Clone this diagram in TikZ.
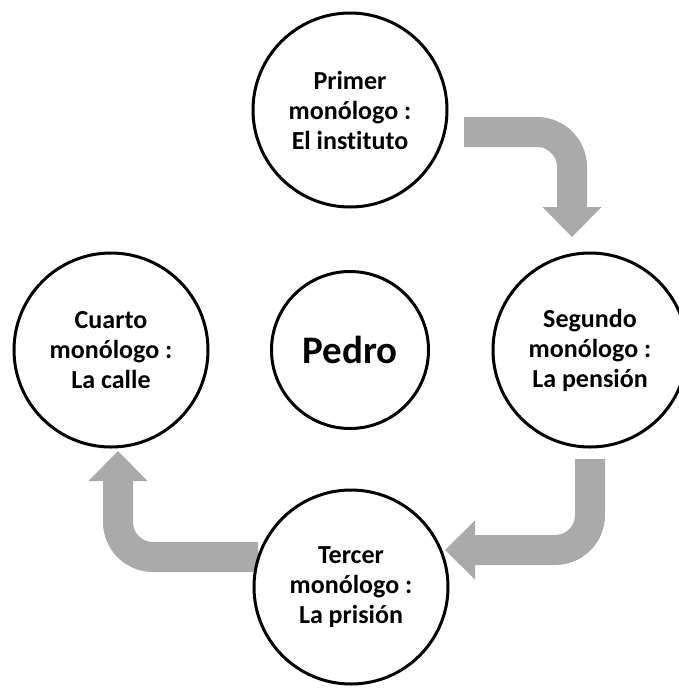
\documentclass[tikz,border=0pt]{standalone}
\usepackage{fontspec}
\setmainfont{Carlito}[Ligatures={NoCommon,NoContextual}]
\definecolor{arrowgray}{RGB}{170,170,170}
\begin{document}
\begin{tikzpicture}[x=1pt,y=-1pt,
  circ/.style={circle, draw=black, line width=3pt, fill=white, inner sep=0pt,
    minimum size=194pt, align=center, font=\fontsize{26}{30}\selectfont\bfseries},
  shaft/.style={draw=arrowgray, line width=30pt, line cap=butt, rounded corners=35pt},
  head/.style={fill=arrowgray}]
\useasboundingbox (0,0) rectangle (679,689);
\clip (0,0) rectangle (679,689);
\fill[white] (0,0) rectangle (679,689);
% arrow coordinates
\coordinate (a1s) at (464,132);
\coordinate (a1c) at (572,132);
\coordinate (a1e) at (572,207.5);
\coordinate (h1a) at (542.5,207);
\coordinate (h1b) at (601.5,207);
\coordinate (h1t) at (572,237);
\coordinate (a2s) at (590,459);
\coordinate (a2c) at (590,550);
\coordinate (a2e) at (474.5,550);
\coordinate (h2a) at (475,520.5);
\coordinate (h2b) at (475,579.5);
\coordinate (h2t) at (445,550);
\coordinate (a3s) at (258,557);
\coordinate (a3c) at (118,557);
\coordinate (a3e) at (118,480.5);
\coordinate (h3a) at (88.5,481);
\coordinate (h3b) at (147.5,481);
\coordinate (h3t) at (118,451);
% arrows
\draw[shaft] (a1s) -- (a1c) -- (a1e);
\fill[head] (h1a) -- (h1b) -- (h1t) -- cycle;
\draw[shaft] (a2s) -- (a2c) -- (a2e);
\fill[head] (h2a) -- (h2b) -- (h2t) -- cycle;
\draw[shaft] (a3s) -- (a3c) -- (a3e);
\fill[head] (h3a) -- (h3b) -- (h3t) -- cycle;
% circles
\node[circ] (primer) at (350,110) {Primer\\monólogo :\\El instituto};
\node[circ] (segundo) at (590,350) {Segundo\\monólogo :\\La pensión};
\node[circ] (tercer) at (351,587) {Tercer\\monólogo :\\La prisión};
\node[circ] (cuarto) at (111,350) {Cuarto\\monólogo :\\La calle};
\node[circ, minimum size=157pt, font=\fontsize{39}{44}\selectfont\bfseries] (pedro) at (350,350) {Pedro};
\end{tikzpicture}
\end{document}
